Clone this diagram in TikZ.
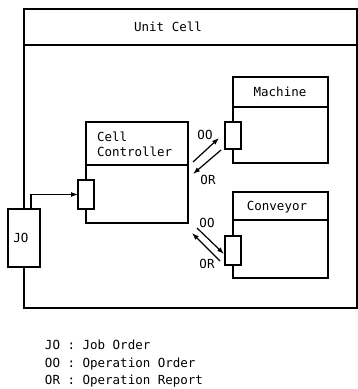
\documentclass[tikz,border=0pt]{standalone}
\usepackage{fontspec}
\setmonofont{DejaVu Sans Mono}
\usetikzlibrary{arrows.meta}
\begin{document}
\begin{tikzpicture}[x=1pt,y=-1pt,
  every node/.style={font=\ttfamily\fontsize{12.5}{15}\selectfont, outer sep=0pt},
  line/.style={draw=black, line width=1.2pt},
  boxpart/.style={draw=black, line width=1.2pt, inner sep=0pt, anchor=north west},
  port/.style={draw=black, line width=1.2pt, minimum width=16pt, minimum height=28pt, inner sep=0pt},
  arr/.style={line width=1.2pt, -{Latex[length=7pt,width=5pt]}},
  lbl/.style={inner sep=0pt}]
\useasboundingbox (0,0) rectangle (358,389);
% outer unit cell
\node[boxpart, minimum width=333pt, minimum height=36pt] (uc) at (24,9) {};
\node[lbl] (uct) at (168,27) {Unit Cell};
\node[draw=black, line width=1.2pt, minimum width=32pt, minimum height=58pt, inner sep=0pt] (jo) at (24,238) {};
\node[lbl] (jot) at (21,238) {JO};
\coordinate (ucbl) at (24,308);
\coordinate (ucbr) at (357,308);
\draw[line] (uc.south west) -- (jo.north);
\draw[line] (jo.south) -- (ucbl) -- (ucbr) -- (uc.south east);
% cell controller
\node[boxpart, minimum width=102pt, minimum height=43pt] (cc) at (86,122) {};
\node[lbl, anchor=base west] (cct1) at (97,141) {Cell};
\node[lbl, anchor=base west] (cct2) at (97,156) {Controller};
\node[port, minimum height=29pt] (ccp) at (86,194.5) {};
\coordinate (ccbr) at (188,223);
\draw[line] (cc.south west) -- (ccp.north);
\draw[line] (ccp.south) |- (ccbr) -- (cc.south east);
\draw[arr] ([xshift=7pt]jo.north) |- (ccp.west);
% machine
\node[boxpart, minimum width=95pt, minimum height=30pt] (mt) at (233,77) {};
\node[lbl] (mtt) at (280,92) {Machine};
\node[port, minimum height=27pt] (mp) at (233,135.5) {};
\coordinate (mbr) at (328,163);
\draw[line] (mt.south west) -- (mp.north);
\draw[line] (mp.south) |- (mbr) -- (mt.south east);
% conveyor
\node[boxpart, minimum width=95pt, minimum height=28pt] (ct) at (233,192) {};
\node[lbl] (ctt) at (277,207) {Conveyor};
\node[port, minimum height=29pt] (cp) at (233,250.5) {};
\coordinate (cbr) at (328,278);
\draw[line] (ct.south west) -- (cp.north);
\draw[line] (cp.south) |- (cbr) -- (ct.south east);
% messages controller <-> machine
\coordinate (m1s) at (193,162);
\coordinate (m1e) at (219,138);
\coordinate (m2s) at (221,150);
\coordinate (m2e) at (193,174);
\draw[arr] (m1s) -- (m1e);
\draw[arr] (m2s) -- (m2e);
\node[lbl] (moo) at (205,135) {OO};
\node[lbl] (mor) at (208,180) {OR};
% messages controller <-> conveyor
\coordinate (c1s) at (197,228);
\coordinate (c1e) at (224,254);
\coordinate (c2s) at (220,261);
\coordinate (c2e) at (192,233);
\draw[arr] (c1s) -- (c1e);
\draw[arr] (c2s) -- (c2e);
\node[lbl] (coo) at (207,223) {OO};
\node[lbl] (cor) at (207,264) {OR};
% legend
\node[lbl, anchor=base west] (lg1) at (45,349) {JO : Job Order};
\node[lbl, anchor=base west] (lg2) at (45,367) {OO : Operation Order};
\node[lbl, anchor=base west] (lg3) at (45,384) {OR : Operation Report};
\end{tikzpicture}
\end{document}
